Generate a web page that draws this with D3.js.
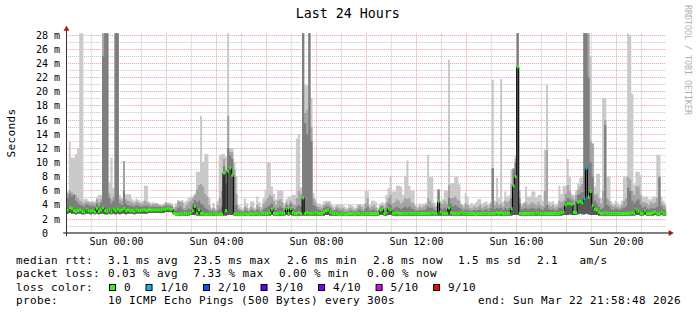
<!DOCTYPE html>
<html>
<head>
<meta charset="utf-8">
<script src="https://cdn.jsdelivr.net/npm/d3@7"></script>
<style>
  body { margin: 0; background: #fff; }
  text { font-family: 'DejaVu Sans Mono', monospace; }
</style>
</head>
<body>
<svg id="chart" width="697" height="315"></svg>
<script>
'use strict';

// smokeping rtt, one value per 5 minute step (ms), one row per hour from 22:00
var median = [
  3.3, 3.6, 3.5, 3.2, 3.1, 3.2, 3.3, 3.1, 3.0, 3.4, 3.2, 3.1,
  3.2, 3.0, 3.5, 3.1, 3.3, 3.6, 3.2, 3.1, 3.3, 3.0, 3.4, 3.2,
  3.4, 3.2, 3.3, 3.5, 3.2, 3.3, 3.2, 3.2, 3.1, 3.3, 3.2, 3.2,
  3.3, 3.3, 3.2, 3.3, 3.3, 3.3, 3.3, 3.3, 3.3, 3.3, 3.4, 3.4,
  3.5, 3.4, 3.4, 2.8, 2.7, 2.7, 2.8, 2.7, 2.8, 2.8, 2.8, 2.9,
  3.2, 3.8, 2.8, 3.3, 2.8, 2.8, 2.7, 2.7, 2.7, 2.7, 2.8, 2.7,
  2.7, 2.7, 2.7, 8.5, 3.2, 8.8, 9.2, 8.2, 2.7, 2.8, 2.7, 2.7,
  2.7, 2.8, 2.7, 2.7, 2.8, 2.7, 2.8, 2.8, 2.7, 2.8, 2.8, 2.8,
  2.8, 2.9, 3.4, 2.8, 2.8, 2.8, 2.9, 2.8, 2.8, 3.5, 2.8, 3.5,
  2.9, 2.8, 2.8, 2.9, 2.8, 5.0, 2.8, 2.9, 2.8, 2.8, 2.8, 2.9,
  2.8, 2.8, 2.8, 3.0, 3.2, 3.3, 3.0, 2.8, 2.8, 2.8, 2.7, 2.7,
  2.8, 2.7, 2.7, 2.8, 2.8, 2.8, 2.7, 2.8, 2.8, 2.7, 2.8, 2.8,
  2.8, 2.8, 2.8, 2.8, 2.8, 2.8, 3.3, 3.4, 2.8, 2.9, 3.5, 3.3,
  2.8, 2.8, 2.9, 2.8, 2.8, 2.8, 2.8, 2.8, 2.8, 2.8, 2.8, 2.8,
  2.8, 2.8, 2.8, 2.8, 2.8, 2.8, 2.8, 2.9, 2.8, 2.8, 4.5, 3.0,
  2.8, 2.8, 2.8, 3.6, 2.9, 2.8, 2.8, 2.8, 2.8, 2.9, 2.8, 2.8,
  2.8, 2.8, 2.8, 2.8, 2.7, 2.8, 2.8, 2.8, 2.8, 2.8, 2.8, 2.8,
  2.8, 2.8, 2.9, 2.8, 2.9, 2.8, 2.8, 2.8, 2.8, 3.5, 6.7, 8.0,
  23.5, 2.8, 2.8, 2.8, 2.8, 2.8, 2.8, 2.8, 2.8, 2.9, 2.8, 2.8,
  2.8, 2.8, 2.8, 2.8, 2.8, 2.8, 2.8, 2.8, 2.8, 2.9, 3.0, 4.0,
  4.2, 4.2, 4.1, 3.0, 2.9, 4.4, 4.5, 4.3, 4.9, 9.2, 5.1, 5.9,
  3.9, 3.4, 3.3, 3.0, 2.8, 2.8, 2.9, 2.8, 2.8, 2.8, 2.8, 2.8,
  2.8, 2.8, 2.8, 2.8, 2.8, 2.8, 2.8, 2.9, 2.8, 3.3, 3.1, 2.8,
  2.8, 3.2, 2.8, 2.8, 2.8, 2.9, 3.0, 2.8, 2.8, 3.0, 2.8, 2.8
];

// fastest of the 10 pings
var pingLow = [
  2.8, 2.9, 2.8, 2.8, 2.7, 2.8, 2.8, 2.7, 2.7, 2.8, 2.8, 2.7,
  2.8, 2.7, 2.8, 2.7, 2.8, 2.8, 2.7, 2.7, 2.8, 2.7, 2.8, 2.7,
  2.8, 2.7, 2.8, 2.8, 2.7, 2.8, 2.8, 2.8, 2.7, 2.8, 2.8, 2.8,
  2.8, 2.8, 2.8, 2.9, 2.9, 2.9, 2.9, 2.9, 2.9, 2.9, 2.9, 3.0,
  3.0, 3.0, 3.0, 2.6, 2.5, 2.5, 2.5, 2.5, 2.5, 2.5, 2.5, 2.6,
  2.6, 2.6, 2.5, 2.5, 2.5, 2.5, 2.5, 2.5, 2.5, 2.5, 2.5, 2.5,
  2.5, 2.5, 2.5, 2.5, 2.5, 2.6, 2.6, 2.6, 2.5, 2.5, 2.5, 2.5,
  2.5, 2.5, 2.5, 2.5, 2.5, 2.5, 2.5, 2.5, 2.5, 2.5, 2.5, 2.5,
  2.5, 2.5, 2.6, 2.5, 2.5, 2.5, 2.5, 2.5, 2.5, 2.6, 2.5, 2.6,
  2.5, 2.5, 2.5, 2.5, 2.5, 2.5, 2.5, 2.5, 2.5, 2.5, 2.5, 2.5,
  2.5, 2.5, 2.5, 2.5, 2.6, 2.6, 2.5, 2.5, 2.5, 2.5, 2.5, 2.5,
  2.5, 2.5, 2.5, 2.5, 2.5, 2.5, 2.5, 2.5, 2.5, 2.5, 2.5, 2.5,
  2.5, 2.5, 2.5, 2.5, 2.5, 2.5, 2.6, 2.6, 2.5, 2.5, 2.6, 2.6,
  2.5, 2.5, 2.5, 2.5, 2.5, 2.5, 2.5, 2.5, 2.5, 2.5, 2.5, 2.5,
  2.5, 2.5, 2.5, 2.5, 2.5, 2.5, 2.5, 2.5, 2.5, 2.5, 2.5, 2.5,
  2.5, 2.5, 2.5, 2.5, 2.5, 2.5, 2.5, 2.5, 2.5, 2.5, 2.5, 2.5,
  2.5, 2.5, 2.5, 2.5, 2.5, 2.5, 2.5, 2.5, 2.5, 2.5, 2.5, 2.5,
  2.5, 2.5, 2.5, 2.5, 2.5, 2.5, 2.5, 2.5, 2.5, 2.5, 2.6, 2.6,
  2.6, 2.5, 2.5, 2.5, 2.5, 2.5, 2.5, 2.5, 2.5, 2.5, 2.5, 2.5,
  2.5, 2.5, 2.5, 2.5, 2.5, 2.5, 2.5, 2.5, 2.5, 2.5, 2.6, 2.6,
  2.6, 2.7, 2.6, 2.6, 2.6, 2.7, 2.8, 2.7, 2.7, 2.8, 2.7, 2.6,
  2.6, 2.6, 2.6, 2.5, 2.5, 2.5, 2.5, 2.5, 2.5, 2.5, 2.5, 2.5,
  2.5, 2.5, 2.5, 2.5, 2.5, 2.5, 2.5, 2.5, 2.5, 2.6, 2.6, 2.5,
  2.5, 2.6, 2.5, 2.5, 2.5, 2.5, 2.6, 2.5, 2.5, 2.6, 2.5, 2.5
];

// 8th of the 10 sorted pings
var ping8 = [
  5.0, 5.6, 5.2, 5.4, 4.6, 4.2, 4.0, 3.9, 3.8, 4.1, 4.0, 3.8,
  3.9, 3.8, 4.2, 3.9, 4.3, 25, 30, 30, 5.0, 4.2, 4.6, 30,
  30, 4.2, 4.0, 6.0, 4.2, 4.0, 3.9, 3.9, 3.8, 4.0, 3.9, 3.8,
  3.8, 3.9, 3.9, 3.8, 3.7, 3.8, 3.7, 3.8, 3.7, 3.7, 3.7, 3.9,
  3.9, 3.8, 3.8, 3.2, 3.3, 3.6, 3.8, 3.4, 3.2, 3.3, 3.5, 3.4,
  4.2, 4.7, 4.4, 4.6, 4.2, 4.0, 3.6, 3.4, 3.2, 3.1, 3.2, 3.0,
  3.2, 3.4, 3.8, 9.5, 7.0, 12.0, 11.0, 10.5, 8.0, 4.0, 3.2, 3.1,
  3.0, 3.3, 3.2, 3.0, 3.3, 3.2, 3.1, 3.4, 3.2, 3.0, 3.4, 3.6,
  3.8, 4.0, 4.2, 3.6, 3.3, 3.6, 3.8, 3.6, 3.2, 4.0, 3.4, 4.2,
  3.5, 3.4, 3.8, 4.0, 3.8, 30, 15.5, 14.0, 30, 13.0, 4.0, 3.8,
  3.4, 3.3, 3.2, 3.6, 3.8, 3.8, 3.6, 3.2, 3.2, 3.4, 3.2, 3.1,
  3.2, 3.0, 3.0, 3.1, 3.2, 3.1, 3.0, 3.2, 3.4, 3.2, 3.1, 3.5,
  3.8, 3.2, 3.3, 3.4, 3.2, 3.0, 3.6, 3.8, 3.2, 3.6, 4.2, 4.0,
  3.4, 3.6, 3.8, 3.6, 3.4, 3.6, 3.8, 3.6, 3.8, 3.5, 3.4, 3.2,
  3.2, 3.3, 3.2, 3.3, 3.4, 3.8, 3.6, 3.6, 3.3, 3.2, 6.2, 3.6,
  3.4, 3.6, 3.4, 5.0, 4.2, 3.8, 4.0, 3.8, 3.6, 3.4, 3.2, 3.4,
  3.3, 3.2, 3.1, 3.3, 3.2, 3.3, 3.4, 3.2, 3.3, 3.4, 3.2, 3.5,
  9.2, 3.4, 3.6, 3.5, 3.6, 3.3, 3.6, 3.4, 3.6, 5.0, 9.0, 10.0,
  30, 4.2, 3.4, 3.5, 3.6, 3.4, 3.5, 3.6, 3.5, 3.4, 3.6, 3.4,
  3.3, 3.6, 4.0, 3.4, 3.3, 3.4, 3.2, 3.3, 3.6, 3.6, 3.8, 4.6,
  5.0, 4.8, 4.6, 4.0, 4.6, 5.4, 5.6, 5.8, 30, 30, 22, 10.0,
  8.0, 4.6, 4.2, 3.8, 3.4, 3.6, 15.3, 4.0, 3.8, 3.4, 3.3, 3.5,
  3.4, 3.3, 3.5, 3.6, 3.8, 6.4, 6.0, 4.6, 4.2, 4.6, 4.8, 4.0,
  3.6, 3.8, 3.5, 3.4, 3.6, 3.5, 3.6, 3.8, 8.0, 3.8, 3.4, 3.3
];

// 9th of the 10 sorted pings
var ping9 = [
  5.6, 6.0, 5.8, 5.6, 5.4, 5.0, 4.6, 4.4, 4.2, 4.5, 4.4, 4.3,
  4.3, 4.2, 4.8, 4.4, 4.8, 30, 30, 30, 5.6, 4.8, 5.2, 30,
  30, 4.8, 4.6, 10.2, 4.8, 4.6, 4.5, 4.3, 4.2, 4.5, 4.3, 4.2,
  4.2, 4.6, 4.4, 4.2, 4.0, 4.1, 4.1, 4.2, 4.0, 3.9, 4.0, 4.3,
  4.2, 4.1, 4.0, 3.5, 3.8, 4.5, 4.5, 4.4, 3.6, 4.0, 4.3, 4.6,
  5.0, 5.4, 6.2, 6.8, 7.0, 6.6, 5.6, 5.2, 4.0, 3.4, 3.6, 3.3,
  4.0, 5.0, 6.0, 10.5, 9.0, 16.6, 11.5, 11.5, 9.0, 5.5, 3.5, 3.4,
  3.2, 3.8, 3.6, 3.3, 3.8, 3.5, 3.3, 4.0, 3.7, 3.4, 4.2, 4.6,
  5.0, 5.4, 5.2, 4.6, 4.0, 4.6, 4.8, 4.4, 3.6, 4.4, 4.0, 4.6,
  4.2, 4.0, 5.0, 6.0, 5.5, 30, 17.0, 17.5, 30, 15.0, 5.0, 4.4,
  3.8, 3.7, 3.6, 4.0, 4.2, 4.3, 4.0, 3.6, 3.4, 3.8, 3.6, 3.5,
  3.6, 3.4, 3.3, 3.5, 3.6, 3.4, 3.3, 3.6, 4.0, 3.7, 3.4, 4.2,
  5.0, 3.6, 3.8, 4.0, 3.6, 3.3, 3.9, 4.0, 3.6, 4.4, 5.0, 5.4,
  4.2, 4.4, 4.8, 4.6, 4.2, 4.5, 5.0, 4.8, 5.0, 4.4, 4.2, 3.8,
  3.5, 3.8, 3.6, 3.8, 4.0, 5.0, 4.6, 4.2, 3.8, 3.7, 6.2, 4.2,
  4.2, 4.6, 4.2, 6.8, 5.0, 5.0, 5.2, 4.8, 4.6, 4.0, 3.6, 4.2,
  4.0, 3.6, 3.5, 3.8, 3.6, 3.8, 4.0, 3.6, 3.8, 4.0, 3.6, 4.2,
  9.2, 4.0, 4.4, 4.0, 4.2, 3.8, 4.6, 4.4, 4.6, 7.0, 9.2, 10.5,
  30, 5.0, 3.8, 4.2, 4.4, 4.0, 4.2, 4.4, 4.2, 4.0, 4.4, 4.0,
  3.8, 6.0, 11.8, 4.0, 3.8, 4.0, 3.6, 3.8, 4.6, 4.4, 4.6, 5.6,
  6.8, 6.0, 5.2, 4.8, 5.4, 6.2, 6.6, 7.0, 30, 30, 30, 13.0,
  12.7, 5.4, 5.6, 5.0, 4.2, 6.0, 16.0, 5.0, 4.6, 4.0, 3.8, 4.0,
  3.8, 3.6, 4.0, 4.6, 5.0, 8.0, 7.6, 6.0, 5.4, 6.6, 6.6, 5.4,
  4.4, 4.4, 4.2, 4.0, 4.4, 4.2, 4.4, 5.0, 8.0, 4.4, 4.0, 3.8
];

// slowest of the 10 pings
var ping10 = [
  5.9, 12.9, 10.7, 10.7, 11.2, 12.0, 30, 30, 4.8, 4.9, 4.6, 4.5,
  4.6, 4.5, 5.1, 5.4, 5.4, 30, 30, 30, 7.2, 10.7, 6.4, 30,
  30, 5.4, 5.0, 10.2, 5.5, 5.5, 5.5, 4.8, 4.6, 4.9, 4.7, 4.5,
  4.6, 6.7, 6.7, 4.5, 4.3, 4.4, 4.3, 4.2, 4.1, 4.0, 4.1, 4.4,
  4.4, 4.3, 4.2, 3.8, 4.2, 4.7, 4.6, 4.7, 4.4, 4.6, 5.0, 5.2,
  5.2, 5.6, 8.7, 8.7, 16.6, 10.1, 11.2, 11.2, 5.0, 3.6, 4.3, 3.5,
  4.6, 11.0, 11.2, 11.2, 10.8, 30, 12.0, 12.0, 10.1, 8.0, 4.0, 3.8,
  3.5, 4.9, 4.2, 3.6, 4.5, 4.5, 3.6, 5.2, 4.4, 3.8, 5.0, 6.1,
  10.0, 10.0, 6.6, 5.6, 4.8, 6.0, 6.0, 6.0, 4.2, 4.8, 5.2, 5.2,
  5.4, 5.4, 13.4, 14.0, 6.5, 30, 20.9, 20.9, 30, 19.1, 5.7, 4.8,
  4.2, 4.2, 4.0, 4.5, 4.6, 4.6, 4.5, 4.0, 3.8, 4.1, 4.0, 4.1,
  4.0, 3.8, 3.6, 4.0, 4.0, 3.9, 3.6, 4.0, 4.1, 4.0, 4.0, 6.0,
  6.0, 4.0, 4.6, 4.6, 4.4, 3.6, 4.2, 4.4, 4.2, 5.4, 6.4, 8.1,
  5.9, 5.9, 6.7, 6.7, 6.6, 5.4, 8.1, 10.3, 6.7, 6.0, 6.0, 4.0,
  3.8, 4.2, 4.0, 4.2, 4.3, 11.1, 7.9, 7.9, 4.4, 4.2, 6.2, 4.6,
  4.8, 6.0, 6.0, 24.5, 7.1, 7.1, 8.0, 8.0, 6.9, 4.2, 4.0, 5.7,
  5.2, 4.0, 4.3, 4.0, 4.4, 4.8, 4.8, 4.2, 4.4, 4.5, 4.0, 4.4,
  21.7, 4.6, 7.8, 5.0, 21.8, 4.5, 5.9, 5.2, 5.4, 9.0, 9.2, 11.0,
  30, 6.0, 4.2, 4.4, 6.6, 5.2, 5.2, 5.9, 5.9, 5.0, 5.4, 5.4,
  4.6, 11.8, 21.0, 4.5, 4.4, 4.5, 4.0, 4.2, 6.7, 5.5, 6.7, 6.7,
  10.5, 8.0, 5.6, 5.4, 6.0, 7.0, 7.8, 8.0, 30, 30, 30, 25.0,
  12.7, 6.6, 8.4, 8.4, 5.0, 19.1, 19.1, 8.0, 8.0, 4.5, 4.2, 4.6,
  4.4, 4.0, 4.6, 8.0, 8.0, 30, 28, 19.7, 6.9, 8.7, 8.7, 8.2,
  5.2, 5.2, 5.2, 4.8, 4.8, 5.2, 5.2, 11.1, 11.1, 5.2, 4.6, 4.2
];

// steps that lost pings (index into the arrays above, level of lossColors)
var lossIndex = [248, 249];
var lossLevel = [1, 1];

var lossLabels = ['0', '1/10', '2/10', '3/10', '4/10', '5/10', '9/10'];
var lossColors = ['#26ff00', '#00b8ff', '#0059ff', '#5e00ff', '#7e00ff', '#dd00ff', '#ff0000'];

var rttStats = ['3.1 ms avg', '23.5 ms max', '2.6 ms min', '2.8 ms now', '1.5 ms sd', '2.1', 'am/s'];
var lossStats = ['0.03 % avg', '7.33 % max', '0.00 % min', '0.00 % now'];
var probeText = '10 ICMP Echo Pings (500 Bytes) every 300s';
var endText = 'end: Sun Mar 22 21:58:48 2026';

var graphStart = new Date(Date.UTC(2026, 2, 21, 21, 58, 48));
var graphEnd = new Date(Date.UTC(2026, 2, 22, 21, 58, 48));
var firstStep = Date.UTC(2026, 2, 21, 22, 0, 0);
var stepMs = 300000;

// sizes
var plot = {left: 66.2, right: 666.2, top: 33.3, bottom: 233.3};
var yMax = 28.25;
var FONT_LEGEND = 11;

var svg = d3.select('#chart');
svg.append('rect').attr('width', 697).attr('height', 315).attr('fill', '#fff');

var x = d3.scaleUtc().domain([graphStart, graphEnd]).range([plot.left, plot.right]);
var y = d3.scaleLinear().domain([0, yMax]).range([plot.bottom, plot.top]);

function px(v) { return Math.floor(v) + 0.5; }
function stepTime(i) { return new Date(firstStep + i * stepMs); }
function valueAt(arr, i) { return arr[Math.min(i, arr.length - 1)]; }

// grid, minor every 1 m and every hour, major every 2 m and 2 hours
var grid = svg.append('g');
d3.range(1, 29).forEach(function(v) {
    grid.append('line')
        .attr('x1', plot.left).attr('x2', plot.right)
        .attr('y1', px(y(v))).attr('y2', px(y(v)))
        .attr('stroke', v % 2 === 0 ? '#e8a0a0' : '#c4c4c4')
        .attr('stroke-dasharray', '1,1');
});
d3.utcHour.range(graphStart, graphEnd).forEach(function(t) {
    grid.append('line')
        .attr('x1', px(x(t))).attr('x2', px(x(t)))
        .attr('y1', plot.top).attr('y2', plot.bottom)
        .attr('stroke', t.getUTCHours() % 2 === 0 ? '#e8a0a0' : '#c4c4c4')
        .attr('stroke-dasharray', '1,1');
});

// smoke
svg.append('clipPath').attr('id', 'plotclip')
    .append('rect')
    .attr('x', plot.left).attr('y', plot.top)
    .attr('width', plot.right - plot.left).attr('height', plot.bottom - plot.top);

var g = svg.append('g').attr('clip-path', 'url(#plotclip)');
var steps = d3.range(median.length + 1);

var layers = [
    {hi: ping10, color: '#cacaca'},
    {hi: ping9, color: '#a4a4a4'},
    {hi: ping8, color: '#7e7e7e'},
    {hi: median, color: '#585858'}
];

layers.forEach(function(layer) {
    var area = d3.area().curve(d3.curveStepAfter)
        .x(function(i) { return x(stepTime(i)); })
        .y0(function(i) { return y(valueAt(pingLow, i)); })
        .y1(function(i) { return y(valueAt(layer.hi, i)); });
    g.append('path').datum(steps).attr('d', area).attr('fill', layer.color);
});

// median: black steps with a loss coloured band on each step
var medLine = d3.line().curve(d3.curveStepAfter)
    .x(function(i) { return x(stepTime(i)); })
    .y(function(i) { return y(valueAt(median, i)); });
g.append('path').datum(steps).attr('d', medLine)
    .attr('fill', 'none').attr('stroke', '#000').attr('stroke-width', 1);

g.selectAll('.med')
    .data(median)
    .enter().append('rect')
    .attr('class', 'med')
    .attr('x', function(d, i) { return x(stepTime(i)); })
    .attr('width', function(d, i) { return x(stepTime(i + 1)) - x(stepTime(i)); })
    .attr('y', function(d) { return y(d) - 1.5; })
    .attr('height', 3)
    .attr('fill', function(d, i) {
        var k = lossIndex.indexOf(i);
        return lossColors[k < 0 ? 0 : lossLevel[k]];
    });

// axes
var axisY = px(plot.bottom) - 0.5;
svg.append('line')
    .attr('x1', plot.left - 3).attr('x2', plot.right + 4)
    .attr('y1', axisY).attr('y2', axisY)
    .attr('stroke', '#000');
svg.append('line')
    .attr('x1', px(plot.left)).attr('x2', px(plot.left))
    .attr('y1', plot.bottom + 3).attr('y2', plot.top - 3)
    .attr('stroke', '#3a2c2c');
svg.append('path')
    .attr('d', 'M' + (px(plot.left) - 3) + ',' + (plot.top - 2.5) + 'L' + px(plot.left) + ',' +
        (plot.top - 7.5) + 'L' + (px(plot.left) + 3) + ',' + (plot.top - 2.5) + 'Z')
    .attr('fill', '#9a1c1c');
svg.append('path')
    .attr('d', 'M' + (plot.right + 2.5) + ',' + (axisY - 3) + 'L' + (plot.right + 7.5) + ',' +
        axisY + 'L' + (plot.right + 2.5) + ',' + (axisY + 3) + 'Z')
    .attr('fill', '#9a1c1c');

// y tick labels
d3.range(0, 29, 2).forEach(function(v) {
    var ty = px(y(v)) + 3.5;
    svg.append('text').attr('x', 48).attr('y', ty)
        .attr('text-anchor', 'end').attr('font-size', 10)
        .text(v);
    if (v > 0) {
        svg.append('text').attr('x', 54).attr('y', ty)
            .attr('font-size', 10).text('m');
    }
});

// x tick labels
var fmt = d3.utcFormat('%a %H:%M');
d3.utcHour.range(graphStart, graphEnd).filter(function(t) {
    return t.getUTCHours() % 4 === 0;
}).forEach(function(t) {
    svg.append('text').attr('x', px(x(t))).attr('y', 244.5)
        .attr('text-anchor', 'middle').attr('font-size', 10)
        .text(fmt(t));
});

// titles
svg.append('text').attr('x', 347.7).attr('y', 18.3)
    .attr('text-anchor', 'middle').attr('font-size', 13.3)
    .text('Last 24 Hours');
svg.append('text')
    .attr('transform', 'translate(15,133) rotate(-90)')
    .attr('text-anchor', 'middle').attr('font-size', FONT_LEGEND)
    .attr('letter-spacing', 0.38)
    .text('Seconds');
svg.append('text')
    .attr('transform', 'translate(685,5) rotate(90)')
    .attr('font-size', 8.3).attr('fill', '#b0b0b0')
    .text('RRDTOOL / TOBI OETIKER');

// legend
function legendText(tx, ty, s) {
    return svg.append('text').attr('x', tx).attr('y', ty)
        .attr('font-size', FONT_LEGEND).attr('letter-spacing', 0.38)
        .style('white-space', 'pre')
        .text(s);
}
var rows = [263.5, 277.1, 290.7, 304.3];
var rttX = [108, 193.6, 287, 373, 458, 537, 579.6];
var lossX = [108, 193.6, 279, 367];

legendText(16, rows[0], 'median rtt:');
rttStats.forEach(function(s, i) { legendText(rttX[i], rows[0], s); });
legendText(16, rows[1], 'packet loss:');
lossStats.forEach(function(s, i) { legendText(lossX[i], rows[1], s); });
legendText(16, rows[2], 'loss color:');
var sx = 109.5;
lossLabels.forEach(function(s, i) {
    svg.append('rect').attr('x', sx).attr('y', 284.5)
        .attr('width', 6).attr('height', 6)
        .attr('fill', lossColors[i]).attr('stroke', '#000');
    var t = legendText(sx + 14.5, rows[2], s);
    sx = sx + 14.5 + t.node().getComputedTextLength() + 15;
});
legendText(16, rows[3], 'probe:');
legendText(108, rows[3], probeText);
legendText(478, rows[3], endText);
</script>
</body>
</html>
